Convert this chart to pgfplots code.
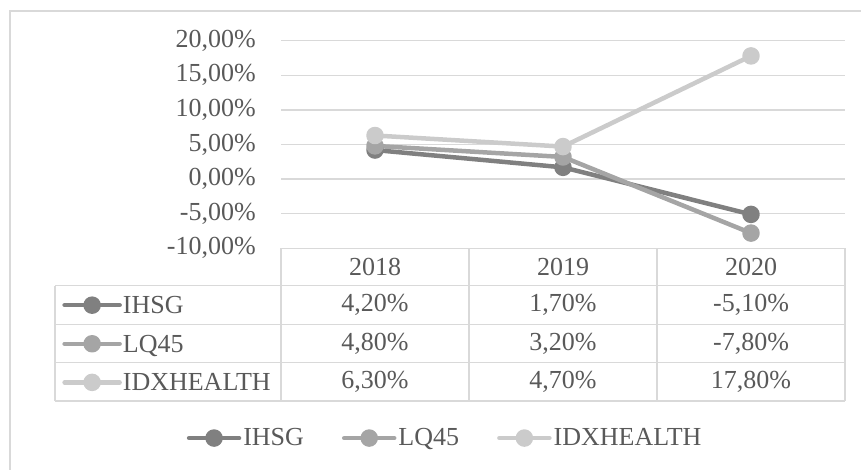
\documentclass[border=0pt]{standalone}
\usepackage{pgfplots}
\pgfplotsset{compat=1.18}
\usepackage{fontspec}
\setmainfont{Liberation Serif}
\definecolor{txt}{HTML}{595959}
\definecolor{grd}{HTML}{D9D9D9}
\definecolor{cA}{HTML}{808080}
\definecolor{cB}{HTML}{A5A5A5}
\definecolor{cC}{HTML}{CBCBCB}
\newcommand{\fs}{\fontsize{26}{31}\selectfont}
\begin{document}
\begin{tikzpicture}[x=1pt,y=1pt]
\useasboundingbox (0,0) rectangle (861,-469);
\clip (0,0) rectangle (861,-469);
\draw[grd, line width=1.2pt] (10,-11) rectangle (880,-490);
% table grid
\begin{scope}[grd, line width=1.5pt]
\draw (281,-248.3) -- (845,-248.3);
\foreach \yy in {285.7,324.3,362.7,401.2} \draw (55,-\yy) -- (845,-\yy);
\draw (55,-285.7) -- (55,-401.2);
\foreach \xx in {281,469,657,845} \draw (\xx,-248.3) -- (\xx,-401.2);
\end{scope}
\begin{scope}[every node/.style={font=\fs, text=txt, anchor=center, inner sep=0pt}]
\node at (375,-267) {2018};
\node at (563,-267) {2019};
\node at (751,-267) {2020};
\node at (375,-305) {4,20\%};
\node at (563,-305) {1,70\%};
\node at (751,-305) {-5,10\%};
\node at (375,-343.5) {4,80\%};
\node at (563,-343.5) {3,20\%};
\node at (751,-343.5) {-7,80\%};
\node at (375,-382) {6,30\%};
\node at (563,-382) {4,70\%};
\node at (751,-382) {17,80\%};
\end{scope}
\begin{axis}[
  at={(281pt,-248.3pt)}, anchor=south west,
  scale only axis, width=564pt, height=207.6pt,
  xmin=0.5, xmax=3.5, ymin=-10, ymax=20,
  xtick=\empty,
  ytick={-10,-5,0,5,10,15,20},
  yticklabels={{-10,00\%},{-5,00\%},{0,00\%},{5,00\%},{10,00\%},{15,00\%},{20,00\%}},
  yticklabel style={font=\fs, text=txt, inner sep=0pt, anchor=east, xshift=-25pt},
  major tick length=0pt,
  axis line style={draw=none},
  ymajorgrids, grid style={grd, line width=1.3pt},
  clip=false,
  legend columns=3,
  legend style={at={(0.291,-0.914)}, anchor=center, draw=none, fill=none,
    font=\fs, text=txt, /tikz/every even column/.append style={column sep=36pt}},
  legend image code/.code={\draw[mark repeat=2,mark phase=2,#1] plot coordinates {(0pt,0pt)(25pt,0pt)(50pt,0pt)};},
  every axis plot/.append style={line width=4.5pt, mark=*, mark size=6.5pt, line cap=round, line join=round},
]
\addplot[cA, mark options={solid, fill=cA}] coordinates {(1,4.2) (2,1.7) (3,-5.1)};
\addplot[cB, mark options={solid, fill=cB}] coordinates {(1,4.8) (2,3.2) (3,-7.8)};
\addplot[cC, mark options={solid, fill=cC}] coordinates {(1,6.3) (2,4.7) (3,17.8)};
\legend{IHSG,LQ45,IDXHEALTH}
\end{axis}
\begin{axis}[
  at={(281pt,-248.3pt)}, anchor=south west,
  scale only axis, width=564pt, height=207.6pt,
  xmin=0.5, xmax=3.5, ymin=-10, ymax=20,
  hide axis,
  legend columns=1,
  legend cell align=left,
  legend style={at={(-0.388,-0.180)}, anchor=north west, draw=none, fill=none,
    font=\fs, text=txt, inner sep=0pt, row sep=0pt,
    nodes={inner ysep=0pt, inner xsep=1pt, text height=27.9pt, text depth=10.7pt}},
  legend image code/.code={\draw[mark repeat=2,mark phase=2,#1] plot coordinates {(0pt,0pt)(27.5pt,0pt)(55pt,0pt)};},
  every axis plot/.append style={line width=4.5pt, mark=*, mark size=6.5pt, line cap=round, line join=round},
]
\addlegendimage{cA, mark options={solid, fill=cA}}
\addlegendimage{cB, mark options={solid, fill=cB}}
\addlegendimage{cC, mark options={solid, fill=cC}}
\legend{IHSG,LQ45,IDXHEALTH}
\end{axis}
\end{tikzpicture}
\end{document}
